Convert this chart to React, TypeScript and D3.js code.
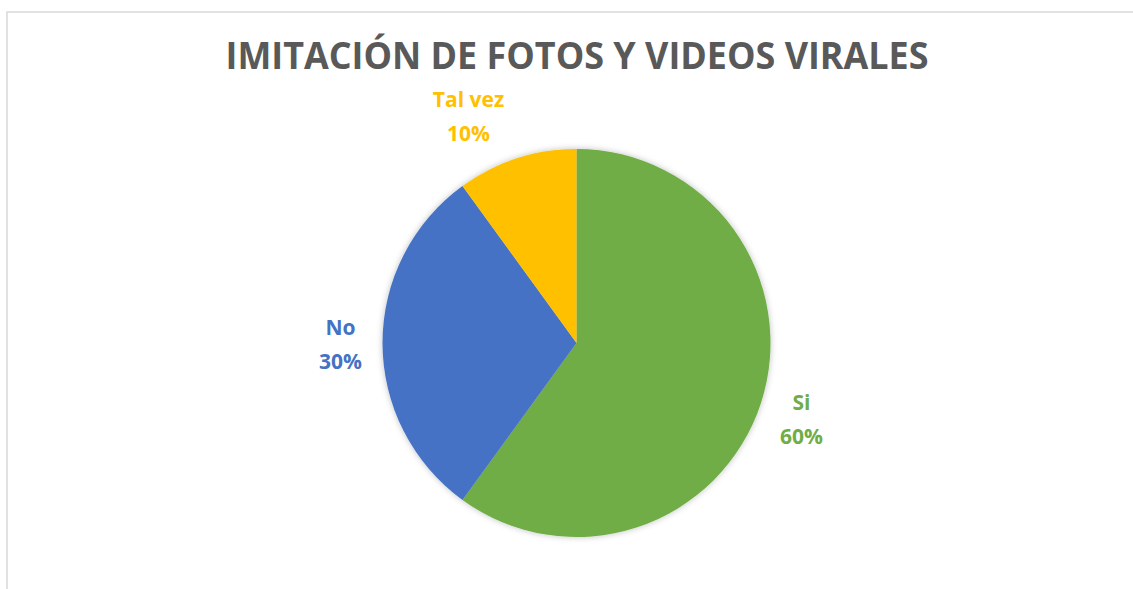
import React from "react";
import * as d3 from "d3";

const categories = ["Si", "No", "Tal vez"];
const values = [60, 30, 10];
const colors = ["#70AD47", "#4472C4", "#FFC000"];
const title = "IMITACIÓN DE FOTOS Y VIDEOS VIRALES";

const W = 1133;
const H = 589;
const cx = 576.5;
const cy = 343;
const R = 194;

// label first-line baseline positions relative to pie center (layout)
const labelPos: [number, number][] = [
  [225, 67],
  [-236, -8],
  [-108, -236],
];

export default function App() {
  const pie = d3.pie<number>().sort(null).value((d) => d);
  const arcs = pie(values);
  const arcGen = d3.arc<d3.PieArcDatum<number>>().innerRadius(0).outerRadius(R);
  const total = d3.sum(values);
  const font = "'Open Sans', 'Noto Sans', sans-serif";

  return (
    <svg
      width={W}
      height={H}
      style={{ position: "fixed", left: 0, top: 0, background: "#fff" }}
    >
      <defs>
        <filter id="sh" x="-20%" y="-20%" width="140%" height="140%">
          <feDropShadow dx="0" dy="0" stdDeviation="3" floodColor="#000" floodOpacity="0.25" />
        </filter>
      </defs>
      <rect x={0} y={0} width={W} height={H} fill="#fff" />
      <path d={`M7,${H + 5} L7,12 L${W + 5},12`} fill="none" stroke="#d9d9d9" strokeWidth={1.5} />
      <text
        x={577}
        y={69}
        textAnchor="middle"
        fontFamily={font}
        fontWeight={700}
        fontSize={37}
        fill="#595959"
        textLength={703}
        lengthAdjust="spacingAndGlyphs"
      >
        {title}
      </text>
      <g transform={`translate(${cx},${cy})`}>
        <g filter="url(#sh)">
          {arcs.map((a, i) => (
            <path key={categories[i]} d={arcGen(a) || ""} fill={colors[i]} />
          ))}
        </g>
        {arcs.map((a, i) => {
          const [x, y] = labelPos[i];
          const pct = Math.round((a.data / total) * 100) + "%";
          return (
            <text
              key={"l" + categories[i]}
              textAnchor="middle"
              fontFamily={font}
              fontWeight={700}
              fontSize={21}
              fill={colors[i]}
            >
              <tspan x={x} y={y}>{categories[i]}</tspan>
              <tspan x={x} y={y + 34}>{pct}</tspan>
            </text>
          );
        })}
      </g>
    </svg>
  );
}
